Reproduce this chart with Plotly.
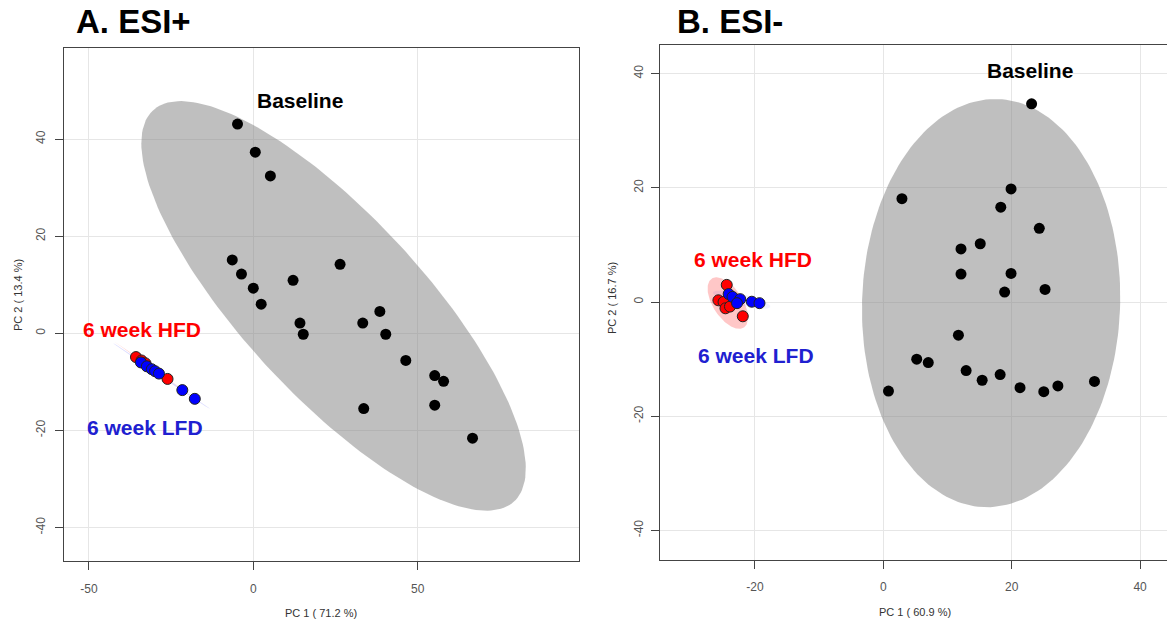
import numpy as np
import plotly.graph_objects as go

# ---------------- data: A. ESI+ ----------------
a_base_x = [-4.8, 0.6, 5.2, -6.4, -3.6, 0.0, 2.4, 12.1, 26.4, 14.2, 15.2, 38.5, 33.3, 40.3, 46.4, 55.2, 57.9, 55.2, 33.6, 66.7]
a_base_y = [43.1, 37.3, 32.4, 15.1, 12.2, 9.3, 6.0, 10.9, 14.2, 2.1, -0.2, 4.5, 2.1, -0.2, -5.6, -8.7, -9.9, -14.8, -15.5, -21.6]
a_hfd_x = [-35.7, -34.0, -32.8, -26.1]
a_hfd_y = [-4.9, -5.6, -6.2, -9.4]
a_lfd_x = [-34.2, -32.4, -30.9, -29.9, -28.7, -21.6, -17.8]
a_lfd_y = [-6.0, -6.8, -7.4, -7.8, -8.3, -11.7, -13.5]

# ---------------- data: B. ESI- ----------------
b_base_x = [23.1, 2.9, 19.9, 18.3, 24.3, 15.1, 12.1, 12.1, 19.9, 18.9, 25.2, 11.7, 5.2, 7.0, 12.9, 15.4, 18.2, 21.3, 25.0, 27.2, 32.9, 0.8]
b_base_y = [34.7, 18.1, 19.8, 16.6, 12.9, 10.2, 9.3, 4.9, 5.0, 1.75, 2.2, -5.8, -10.0, -10.6, -12.0, -13.7, -12.7, -15.0, -15.7, -14.7, -13.9, -15.6]
b_hfd_x = [-24.4, -25.7, -24.9, -24.6, -23.9, -21.9]
b_hfd_y = [3.0, 0.3, 0.0, -1.1, -0.8, -2.5]
b_lfd_x = [-24.1, -23.5, -22.3, -22.8, -20.5, -19.3]
b_lfd_y = [1.4, 0.9, 0.5, -0.2, 0.05, -0.2]

x_ticks_a = [-50, 0, 50]
x_ticks_b = [-20, 0, 20, 40]
y_ticks = [-40, -20, 0, 20, 40]

FONT = "Liberation Sans, Arial, sans-serif"
W, H = 1167, 624


def conf_ellipse(x, y, n=200, chi2=5.991):
    x = np.asarray(x, float)
    y = np.asarray(y, float)
    cov = np.cov(x, y)
    vals, vecs = np.linalg.eigh(cov)
    t = np.linspace(0, 2 * np.pi, n)
    circ = np.vstack([np.cos(t), np.sin(t)])
    pts = vecs @ (np.sqrt(vals * chi2)[:, None] * circ)
    return x.mean() + pts[0], y.mean() + pts[1]


fig = go.Figure()


def add_panel(xa, ya, bx, by, hx, hy, lx, ly, blue_alpha):
    ex, ey = conf_ellipse(bx, by)
    fig.add_trace(go.Scatter(x=ex, y=ey, mode="lines", fill="toself",
                             fillcolor="rgba(128,128,128,0.5)", line=dict(width=0),
                             xaxis=xa, yaxis=ya, hoverinfo="skip", showlegend=False))
    ex, ey = conf_ellipse(hx, hy)
    fig.add_trace(go.Scatter(x=ex, y=ey, mode="lines", fill="toself",
                             fillcolor="rgba(255,0,0,0.22)", line=dict(width=0),
                             xaxis=xa, yaxis=ya, hoverinfo="skip", showlegend=False))
    ex, ey = conf_ellipse(lx, ly)
    fig.add_trace(go.Scatter(x=ex, y=ey, mode="lines", fill="toself",
                             fillcolor="rgba(0,0,255,%s)" % blue_alpha, line=dict(width=0),
                             xaxis=xa, yaxis=ya, hoverinfo="skip", showlegend=False))
    fig.add_trace(go.Scatter(x=bx, y=by, mode="markers",
                             marker=dict(color="black", size=11, line=dict(width=0)),
                             xaxis=xa, yaxis=ya, showlegend=False))
    fig.add_trace(go.Scatter(x=hx, y=hy, mode="markers",
                             marker=dict(color="#FF0000", size=11, line=dict(width=1, color="#222222")),
                             xaxis=xa, yaxis=ya, showlegend=False))
    fig.add_trace(go.Scatter(x=lx, y=ly, mode="markers",
                             marker=dict(color="#0000FF", size=11, line=dict(width=1, color="#222222")),
                             xaxis=xa, yaxis=ya, showlegend=False))


add_panel("x", "y", a_base_x, a_base_y, a_hfd_x, a_hfd_y, a_lfd_x, a_lfd_y, 0.15)
add_panel("x2", "y2", b_base_x, b_base_y, b_hfd_x, b_hfd_y, b_lfd_x, b_lfd_y, 0.06)

axis_common = dict(showgrid=True, gridcolor="#E6E6E6", gridwidth=1.3, zeroline=False,
                   showline=True, linecolor="#444444", linewidth=1.2,
                   ticks="outside", ticklen=8, tickcolor="#444444", tickwidth=1.2,
                   tickfont=dict(family=FONT, size=12, color="#555555"))


def labels(vals):
    return [str(v) for v in vals]


fig.update_layout(
    width=W, height=H,
    margin=dict(l=0, r=0, t=0, b=0),
    paper_bgcolor="white", plot_bgcolor="white",
    xaxis=dict(axis_common, domain=[64 / W, 579 / W], range=[-57.6, 99.1],
               tickvals=x_ticks_a, ticktext=labels(x_ticks_a), mirror=True, anchor="y",
               ticklabelstandoff=8),
    yaxis=dict(axis_common, domain=[1 - 561 / H, 1 - 47.8 / H], range=[-46.9, 58.8],
               tickvals=y_ticks, ticktext=labels(y_ticks), mirror=True, anchor="x",
               tickangle=-90, ticklabelstandoff=5),
    xaxis2=dict(axis_common, domain=[660 / W, 1.0], range=[-34.8, 44.2],
                tickvals=x_ticks_b, ticktext=labels(x_ticks_b), mirror=True, anchor="y2",
                ticklabelstandoff=8),
    yaxis2=dict(axis_common, domain=[1 - 559.6 / H, 1 - 45 / H], range=[-45.1, 45.0],
                tickvals=y_ticks, ticktext=labels(y_ticks), mirror=False, anchor="x2",
                tickangle=-90, ticklabelstandoff=3),
)

ann = []
# panel titles
ann.append(dict(text="<b>A. ESI+</b>", x=74 / W, y=1 - 22 / H, xref="paper", yref="paper",
                xanchor="left", yanchor="middle", showarrow=False,
                font=dict(family=FONT, size=33, color="black")))
ann.append(dict(text="<b>B. ESI-</b>", x=675 / W, y=1 - 22 / H, xref="paper", yref="paper",
                xanchor="left", yanchor="middle", showarrow=False,
                font=dict(family=FONT, size=33, color="black")))
# axis titles
ann.append(dict(text="PC 1 ( 71.2 %)", x=321 / W, y=1 - 613 / H, xref="paper", yref="paper",
                xanchor="center", yanchor="middle", showarrow=False,
                font=dict(family=FONT, size=11, color="#333333")))
ann.append(dict(text="PC 1 ( 60.9 %)", x=915 / W, y=1 - 612 / H, xref="paper", yref="paper",
                xanchor="center", yanchor="middle", showarrow=False,
                font=dict(family=FONT, size=11, color="#333333")))
ann.append(dict(text="PC 2 ( 13.4 %)", x=18 / W, y=1 - 295 / H, xref="paper", yref="paper",
                xanchor="center", yanchor="middle", showarrow=False, textangle=-90,
                font=dict(family=FONT, size=11, color="#333333")))
ann.append(dict(text="PC 2 ( 16.7 %)", x=612 / W, y=1 - 298 / H, xref="paper", yref="paper",
                xanchor="center", yanchor="middle", showarrow=False, textangle=-90,
                font=dict(family=FONT, size=11, color="#333333")))
# in-plot group labels
lab = dict(showarrow=False, xanchor="center", yanchor="middle")
ann.append(dict(lab, text="<b>Baseline</b>", x=14.2, y=48.0, xref="x", yref="y",
                font=dict(family=FONT, size=21, color="black")))
ann.append(dict(lab, text="<b>6 week HFD</b>", x=-33.9, y=0.8, xref="x", yref="y",
                font=dict(family=FONT, size=21, color="#FF0000")))
ann.append(dict(lab, text="<b>6 week LFD</b>", x=-33.0, y=-19.4, xref="x", yref="y",
                font=dict(family=FONT, size=21, color="#2020D0")))
ann.append(dict(lab, text="<b>Baseline</b>", x=22.9, y=40.6, xref="x2", yref="y2",
                font=dict(family=FONT, size=21, color="black")))
ann.append(dict(lab, text="<b>6 week HFD</b>", x=-20.3, y=7.5, xref="x2", yref="y2",
                font=dict(family=FONT, size=21, color="#FF0000")))
ann.append(dict(lab, text="<b>6 week LFD</b>", x=-19.8, y=-9.3, xref="x2", yref="y2",
                font=dict(family=FONT, size=21, color="#2020D0")))
fig.update_layout(annotations=ann)

fig.write_html("out.html")
